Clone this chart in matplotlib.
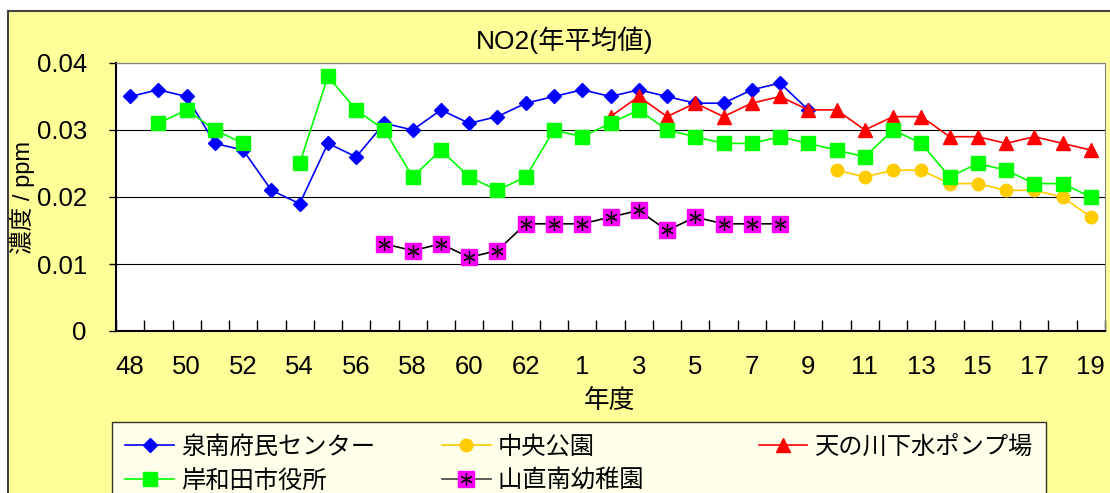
import numpy as np
import matplotlib
matplotlib.use('Agg')
import matplotlib.pyplot as plt
from matplotlib.patches import Rectangle
from matplotlib.lines import Line2D

plt.rcParams['font.family'] = ['Liberation Sans', 'Noto Sans CJK JP']

nan = np.nan

# 年度 (S48 - S63, H1 - H19)
years = [str(y) for y in range(48, 64)] + [str(y) for y in range(1, 20)]

# 泉南府民センター
sennan = [0.035, 0.036, 0.035, 0.028, 0.027, 0.021, 0.019, 0.028, 0.026, 0.031,
          0.030, 0.033, 0.031, 0.032, 0.034, 0.035, 0.036, 0.035, 0.036, 0.035,
          0.034, 0.034, 0.036, 0.037, 0.033, nan, nan, nan, nan, nan,
          nan, nan, nan, nan, nan]
# 中央公園
chuo = [nan] * 25 + [0.024, 0.023, 0.024, 0.024, 0.022, 0.022, 0.021, 0.021, 0.020, 0.017]
# 天の川下水ポンプ場
amanogawa = [nan] * 17 + [0.032, 0.035, 0.032, 0.034, 0.032, 0.034, 0.035, 0.033,
                          0.033, 0.030, 0.032, 0.032, 0.029, 0.029, 0.028, 0.029, 0.028, 0.027]
# 岸和田市役所
kishiwada = [nan, 0.031, 0.033, 0.030, 0.028, nan, 0.025, 0.038, 0.033, 0.030,
             0.023, 0.027, 0.023, 0.021, 0.023, 0.030, 0.029, 0.031, 0.033, 0.030,
             0.029, 0.028, 0.028, 0.029, 0.028, 0.027, 0.026, 0.030, 0.028, 0.023,
             0.025, 0.024, 0.022, 0.022, 0.020]
# 山直南幼稚園
yamadai = [nan] * 9 + [0.013, 0.012, 0.013, 0.011, 0.012, 0.016, 0.016, 0.016, 0.017,
                       0.018, 0.015, 0.017, 0.016, 0.016, 0.016] + [nan] * 11

x = np.arange(len(years))

fig = plt.figure(figsize=(11.1, 4.93), dpi=100)
fig.patch.set_facecolor('white')
fig.patches.append(Rectangle((8 / 1110, -0.1), 1.0, 1 - 11 / 493 + 0.1,
                             transform=fig.transFigure, facecolor='#FFFF99',
                             edgecolor='#404040', linewidth=1.5, zorder=-10))

ax = fig.add_axes([116 / 1110, 1 - 331 / 493, 989 / 1110, 268 / 493])
ax.set_facecolor('white')

lw = 1.2
ax.plot(x, sennan, color='#0000FF', lw=lw, marker='D', ms=7, mec='#0000FF', zorder=3)
ax.plot(x, chuo, color='#FFCC00', lw=lw, marker='o', ms=9, mec='#FFCC00', zorder=4)
ax.plot(x, amanogawa, color='#FF0000', lw=lw, marker='^', ms=10, mec='#FF0000', zorder=5)
ax.plot(x, kishiwada, color='#00FF00', lw=lw, marker='s', ms=9.5, mec='#00FF00', zorder=6)
ax.plot(x, yamadai, color='black', lw=lw, marker='s', ms=12, mfc='#FF00FF', mec='#FF00FF', zorder=7)
ax.plot(x, yamadai, ls='none', marker=(6, 2, 0), ms=9, color='black', mew=0.9, zorder=8)

ax.set_xlim(-0.5, len(years) - 0.5)
ax.set_ylim(0, 0.04)
ax.set_yticks([0, 0.01, 0.02, 0.03, 0.04])
ax.set_yticklabels(['0', '0.01', '0.02', '0.03', '0.04'])
ax.yaxis.grid(True, color='black', lw=0.8)
ax.set_axisbelow(True)

ax.set_xticks(x[::2])
ax.set_xticklabels(years[::2])
ax.set_xticks(np.arange(len(years) + 1) - 0.5, minor=True)
ax.tick_params(axis='x', which='major', length=0, pad=17, labelsize=18.5)
ax.tick_params(axis='x', which='minor', direction='in', length=8, width=1)
ax.tick_params(axis='y', direction='out', length=5, width=1, pad=16, labelsize=18.5)

for s in ['top', 'right']:
    ax.spines[s].set_color('#808080')
for s in ['left', 'bottom']:
    ax.spines[s].set_color('black')
    ax.spines[s].set_linewidth(1.5)

fig.text(565 / 1110, 1 - 40 / 493, 'NO2(年平均値)', ha='center', va='center', fontsize=19)
fig.text(610 / 1110, 1 - 401 / 493, '年度', ha='center', va='center', fontsize=18.5)
fig.text(22 / 1110, 1 - 197 / 493, '濃度 / ppm', ha='center', va='center', rotation=90, fontsize=17)

h_sennan = Line2D([], [], color='#0000FF', lw=lw, marker='D', ms=7, mec='#0000FF')
h_chuo = Line2D([], [], color='#FFCC00', lw=lw, marker='o', ms=9, mec='#FFCC00')
h_ama = Line2D([], [], color='#FF0000', lw=lw, marker='^', ms=10, mec='#FF0000')
h_kishi = Line2D([], [], color='#00FF00', lw=lw, marker='s', ms=9.5, mec='#00FF00')
h_yama1 = Line2D([], [], color='#404040', lw=lw, marker='s', ms=11, mfc='#FF00FF', mec='#FF00FF')
h_yama2 = Line2D([], [], ls='none', marker=(6, 2, 0), ms=8.5, color='black', mew=0.9)

leg = fig.legend([h_sennan, h_kishi, h_chuo, (h_yama1, h_yama2), h_ama],
                 ['泉南府民センター', '岸和田市役所', '中央公園', '山直南幼稚園\u3000\u3000', '天の川下水ポンプ場'],
                 loc='upper left', bbox_to_anchor=(112 / 1110, 1 - 422 / 493),
                 ncol=3, fontsize=17.5, frameon=True, fancybox=False, edgecolor='black',
                 borderaxespad=0, borderpad=0.55, handlelength=2.0, handletextpad=0.3,
                 columnspacing=2.75, labelspacing=0.45)
leg.get_frame().set_linewidth(1)
leg.get_frame().set_facecolor('white')

fig.savefig('out.png', dpi=100)
